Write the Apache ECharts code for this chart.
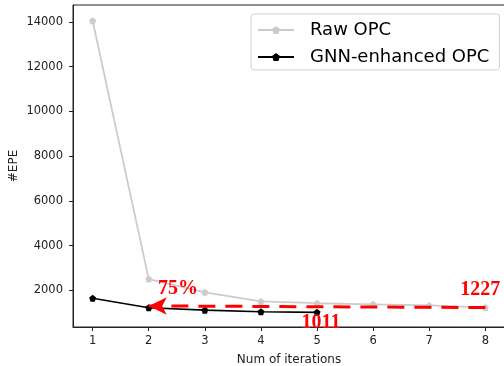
<!DOCTYPE html>
<html>
<head>
<meta charset="utf-8">
<script src="https://cdn.jsdelivr.net/npm/echarts@6/dist/echarts.min.js"></script>
<style>
  html, body { margin: 0; padding: 0; background: #fff; }
  #chart { width: 504px; height: 366px; }
</style>
</head>
<body>
<div id="chart"></div>
<script>
// data
const iterations = [1, 2, 3, 4, 5, 6, 7, 8];
const rawOpc = [14050, 2500, 1910, 1500, 1420, 1370, 1320, 1227];
const gnnOpc = [1640, 1220, 1110, 1040, 1011];
const xTicks = [1, 2, 3, 4, 5, 6, 7, 8];
const yTicks = [2000, 4000, 6000, 8000, 10000, 12000, 14000];
const arrowFrom = [8, 1227];
const arrowTo = [2, 1300];
const notes = [
  { text: '75%', at: [2.52, 2080] },
  { text: '1011', at: [5.07, 560] },
  { text: '1227', at: [7.91, 2030] }
];

const pentagon = 'path://M0,-1L0.951,-0.309L0.588,0.809L-0.588,0.809L-0.951,-0.309Z';
const tickFont = { color: '#222', fontSize: 11.5, fontFamily: 'DejaVu Sans' };

const chart = echarts.init(document.getElementById('chart'), null, { renderer: 'canvas' });
chart.setOption({
  animation: false,
  backgroundColor: '#fff',
  grid: {
    left: 73, right: -1, top: 5, bottom: 39,
    outerBoundsMode: 'none',
    containLabel: false,
    show: true, borderColor: '#222', borderWidth: 1, backgroundColor: '#fff'
  },
  legend: {
    orient: 'vertical',
    left: 251,
    top: 14,
    width: 246,
    padding: [7, 10, 4, 6],
    backgroundColor: '#fff',
    borderColor: '#d0d0d0',
    borderWidth: 1,
    borderRadius: 3,
    itemWidth: 36,
    itemHeight: 10,
    itemGap: 9,
    textStyle: { fontSize: 18, color: '#000', fontFamily: 'DejaVu Sans', padding: [0, 0, 0, 11] },
    data: ['Raw OPC', 'GNN-enhanced OPC']
  },
  xAxis: {
    type: 'value',
    min: 0.65,
    max: 8.35,
    name: 'Num of iterations',
    nameLocation: 'middle',
    nameGap: 27,
    nameMoveOverlap: false,
    nameTextStyle: { color: '#222', fontSize: 12, fontFamily: 'DejaVu Sans' },
    axisLine: { show: true, lineStyle: { color: '#222', width: 1 } },
    axisTick: { show: true, length: 4, lineStyle: { color: '#222' }, customValues: xTicks },
    axisLabel: Object.assign({ customValues: xTicks, margin: 8 }, tickFont),
    splitLine: { show: false }
  },
  yAxis: {
    type: 'value',
    min: 357,
    max: 14754,
    name: '#EPE',
    nameLocation: 'middle',
    nameGap: 53,
    nameMoveOverlap: false,
    nameRotate: 90,
    nameTextStyle: { color: '#222', fontSize: 12, fontFamily: 'DejaVu Sans' },
    axisLine: { show: true, lineStyle: { color: '#222', width: 1 } },
    axisTick: { show: true, length: 4, lineStyle: { color: '#222' }, customValues: yTicks },
    axisLabel: Object.assign({ customValues: yTicks, margin: 10, formatter: v => String(v) }, tickFont),
    splitLine: { show: false }
  },
  series: [
    {
      name: 'Raw OPC',
      type: 'line',
      data: iterations.map((x, i) => [x, rawOpc[i]]),
      symbol: pentagon,
      symbolSize: 7,
      color: '#cccccc',
      lineStyle: { color: '#cccccc', width: 1.8 },
      itemStyle: { color: '#cccccc' },
      z: 2
    },
    {
      name: 'GNN-enhanced OPC',
      type: 'line',
      data: gnnOpc.map((v, i) => [iterations[i], v]),
      symbol: pentagon,
      symbolSize: 7,
      color: '#000',
      lineStyle: { color: '#000', width: 1.6 },
      itemStyle: { color: '#000' },
      z: 3,
      markLine: {
        silent: true,
        symbol: ['none', 'arrow'],
        symbolSize: [13, 18],
        lineStyle: { color: '#ff0000', width: 3, type: [17, 10] },
        label: { show: false },
        data: [[{ coord: arrowFrom }, { coord: arrowTo }]],
        z: 4
      },
      markPoint: {
        silent: true,
        symbol: 'circle',
        symbolSize: 0,
        label: {
          show: true,
          position: 'inside',
          color: '#ff0000',
          fontSize: 20,
          fontWeight: 'bold',
          fontFamily: 'Liberation Serif',
          formatter: p => p.name
        },
        data: notes.map(n => ({ name: n.text, coord: n.at }))
      }
    }
  ]
});
</script>
</body>
</html>
